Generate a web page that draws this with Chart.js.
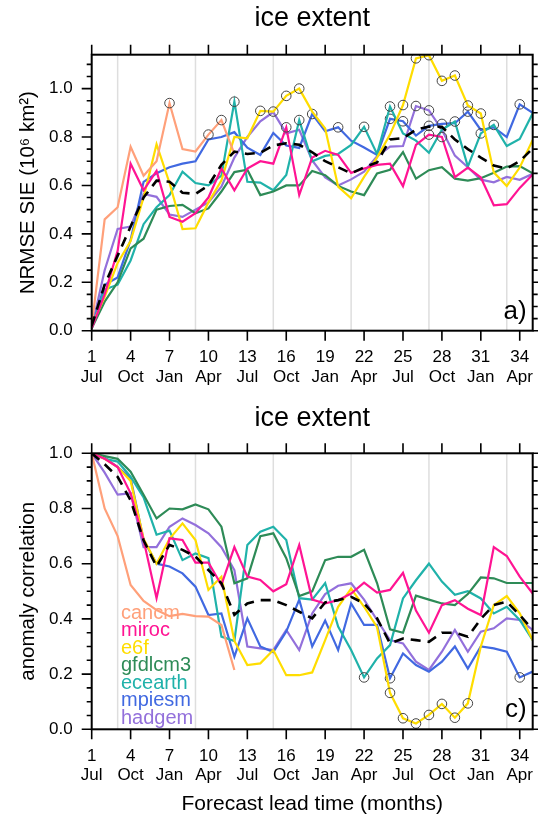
<!DOCTYPE html>
<html><head><meta charset="utf-8">
<script src="https://cdn.jsdelivr.net/npm/chart.js@4.4.1/dist/chart.umd.min.js"></script>
<style>
html,body{margin:0;padding:0;background:#fff;}
#wrap{position:relative;width:538px;height:817px;overflow:hidden;}
canvas{position:absolute;left:0;}
</style></head><body>
<div id="wrap">
<canvas id="c1" width="538" height="400" style="top:0"></canvas>
<canvas id="c2" width="538" height="417" style="top:400px"></canvas>
</div>
<script>
// ---------- data ----------
const leadMonths = [1,2,3,4,5,6,7,8,9,10,11,12,13,14,15,16,17,18,19,20,21,22,23,24,25,26,27,28,29,30,31,32,33,34,35];
const tickMonths = [1,4,7,10,13,16,19,22,25,28,31,34];
const tickMonthNames = ["Jul","Oct","Jan","Apr","Jul","Oct","Jan","Apr","Jul","Oct","Jan","Apr"];
const gridMonths = [3,9,15,21,27,33];
const seriesNames = ["cancm","miroc","e6f","gfdlcm3","ecearth","mpiesm","hadgem"];
const seriesColors = ["#ffa07a","#ff1493","#ffdd00","#2e8b57","#20b2aa","#4169e1","#9370db"];
const rmseTicks = [0.0,0.2,0.4,0.6,0.8,1.0];
const accTicks = [0.0,0.2,0.4,0.6,0.8,1.0];

// NRMSE SIE (10^6 km^2)
const rmseCancm   = [0.02,0.46,0.51,0.76,0.64,0.70,0.94,0.75,0.74,0.81,0.87,0.73];
const rmseMiroc   = [0.01,0.15,0.33,0.69,0.58,0.66,0.47,0.45,0.485,0.55,0.67,0.58,0.67,0.70,0.69,0.84,0.56,0.715,0.743,0.726,0.652,0.67,0.685,0.69,0.597,0.767,0.81,0.80,0.634,0.674,0.633,0.518,0.523,0.59,0.645];
const rmseE6f     = [0.02,0.14,0.28,0.37,0.55,0.77,0.61,0.42,0.423,0.53,0.62,0.80,0.795,0.908,0.905,0.97,1.0,0.905,0.835,0.595,0.547,0.635,0.715,0.81,0.932,1.125,1.138,1.032,1.054,0.93,0.897,0.654,0.598,0.674,0.788];
const rmseGfdlcm3 = [0.01,0.12,0.20,0.34,0.38,0.50,0.515,0.52,0.485,0.505,0.575,0.655,0.665,0.56,0.575,0.60,0.60,0.66,0.642,0.598,0.575,0.56,0.65,0.665,0.738,0.628,0.663,0.675,0.628,0.62,0.63,0.652,0.678,0.68,0.65];
const rmseEcearth = [0.01,0.17,0.19,0.29,0.44,0.51,0.56,0.657,0.61,0.60,0.64,0.946,0.615,0.612,0.58,0.643,0.87,0.70,0.722,0.73,0.767,0.842,0.73,0.926,0.815,0.785,0.735,0.83,0.864,0.678,0.815,0.85,0.763,0.792,0.898];
const rmseMpiesm  = [0.01,0.19,0.22,0.375,0.615,0.65,0.675,0.69,0.70,0.79,0.80,0.82,0.756,0.726,0.817,0.765,0.755,0.895,0.824,0.84,0.785,0.757,0.726,0.875,0.865,0.806,0.846,0.854,0.857,0.905,0.829,0.84,0.80,0.935,0.90];
const rmseHadgem  = [0.01,0.25,0.42,0.43,0.565,0.553,0.48,0.47,0.50,0.53,0.595,0.715,0.80,0.865,0.903,0.815,0.83,0.703,0.633,0.60,0.625,0.657,0.72,0.76,0.763,0.928,0.91,0.83,0.723,0.675,0.624,0.613,0.635,0.623,0.648];
const rmseMean    = [0.02,0.19,0.31,0.43,0.55,0.62,0.615,0.57,0.565,0.60,0.685,0.74,0.73,0.735,0.765,0.774,0.768,0.737,0.70,0.675,0.65,0.675,0.695,0.79,0.795,0.83,0.843,0.842,0.79,0.75,0.715,0.682,0.67,0.70,0.753];
// circled lead months (top panel)
const rmseCircles = {
  cancm:[7,10,11], miroc:[16,27,28], e6f:[14,15,16,17,25,26,27,28,29,30,31], gfdlcm3:[],
  ecearth:[12,17,22,24,29,31,32], mpiesm:[18,20,24,25,27,28,30,34], hadgem:[26,27]
};

// anomaly correlation
const accCancm   = [1.0,0.80,0.70,0.523,0.465,0.432,0.41,0.418,0.41,0.408,0.378,0.215];
const accMiroc   = [1.0,0.98,0.95,0.855,0.686,0.475,0.692,0.686,0.604,0.604,0.523,0.66,0.553,0.541,0.50,0.526,0.668,0.47,0.456,0.468,0.492,0.531,0.495,0.505,0.567,0.43,0.35,0.45,0.468,0.437,0.414,0.66,0.628,0.553,0.492];
const accE6f     = [1.0,0.98,0.95,0.90,0.69,0.60,0.69,0.746,0.686,0.505,0.553,0.32,0.233,0.239,0.287,0.196,0.196,0.206,0.323,0.444,0.51,0.444,0.37,0.132,0.04,0.021,0.052,0.092,0.042,0.094,0.30,0.45,0.483,0.42,0.323];
const accGfdlcm3 = [1.0,0.99,0.98,0.933,0.85,0.764,0.80,0.797,0.815,0.797,0.734,0.529,0.547,0.70,0.71,0.62,0.483,0.50,0.613,0.625,0.625,0.65,0.53,0.362,0.35,0.484,0.47,0.456,0.45,0.49,0.55,0.547,0.53,0.53,0.53];
const accEcearth = [1.0,0.98,0.97,0.915,0.84,0.705,0.72,0.613,0.637,0.62,0.336,0.32,0.668,0.716,0.734,0.686,0.475,0.47,0.53,0.372,0.287,0.188,0.257,0.305,0.474,0.54,0.60,0.535,0.487,0.50,0.474,0.42,0.444,0.396,0.323];
const accMpiesm  = [1.0,0.985,0.95,0.91,0.686,0.60,0.59,0.565,0.517,0.414,0.42,0.263,0.402,0.30,0.28,0.354,0.47,0.30,0.394,0.287,0.456,0.378,0.378,0.185,0.275,0.233,0.209,0.245,0.30,0.22,0.30,0.293,0.281,0.188,0.209];
const accHadgem  = [1.0,0.93,0.85,0.855,0.66,0.66,0.734,0.764,0.74,0.71,0.66,0.577,0.30,0.293,0.287,0.36,0.287,0.42,0.49,0.52,0.529,0.47,0.396,0.323,0.311,0.245,0.215,0.281,0.36,0.281,0.354,0.366,0.402,0.396,0.36];
const accMean    = [1.0,0.96,0.915,0.83,0.685,0.59,0.668,0.65,0.626,0.577,0.529,0.415,0.456,0.468,0.468,0.45,0.426,0.402,0.46,0.468,0.48,0.456,0.402,0.311,0.329,0.323,0.317,0.35,0.35,0.335,0.40,0.45,0.462,0.414,0.36];
const accCircles = {
  cancm:[], miroc:[], e6f:[24,25,26,27,28,29,30], gfdlcm3:[], ecearth:[22], mpiesm:[24,34], hadgem:[]
};

// ---------- chart building ----------
const FONT = '"Liberation Sans", Arial, Helvetica, sans-serif';
Chart.defaults.font.family = FONT;
Chart.defaults.color = '#000';

function toXY(vals){ return vals.map((v,i)=>({x:leadMonths[i], y:v})); }

function makeDatasets(seriesVals, meanVals, circles){
  const ds = [{
    label:'mean', data:toXY(meanVals), borderColor:'#000', borderWidth:2.6,
    borderDash:[10,7], pointRadius:0, fill:false, tension:0
  }];
  seriesNames.forEach((n,i)=>{
    const c = circles[n] || [];
    ds.push({
      label:n, data:toXY(seriesVals[i]), borderColor:seriesColors[i], borderWidth:2.2,
      fill:false, tension:0,
      pointRadius:(ctx)=> (ctx.raw && c.includes(ctx.raw.x)) ? 4.8 : 0,
      pointBorderColor:'#444', pointBorderWidth:1, pointBackgroundColor:'rgba(0,0,0,0)',
      pointHoverRadius:0
    });
  });
  return ds;
}

const framePlugin = {
  id:'frame',
  beforeDatasetsDraw(chart, args, o){
    const {ctx, chartArea:ca, scales:{x}} = chart;
    ctx.save();
    ctx.strokeStyle = '#dedede'; ctx.lineWidth = 1.5;
    gridMonths.forEach(m=>{
      const px = x.getPixelForValue(m);
      ctx.beginPath(); ctx.moveTo(px, ca.top); ctx.lineTo(px, ca.bottom); ctx.stroke();
    });
    if (o.legend){
      ctx.font = '20px ' + FONT; ctx.textAlign='left'; ctx.textBaseline='alphabetic';
      chart.data.datasets.slice(1).forEach((d,i)=>{
        ctx.fillStyle = d.borderColor;
        ctx.fillText(d.label, o.legendX, o.legendY + i*o.legendStep);
      });
    }
    ctx.restore();
  },
  afterDraw(chart, args, o){
    const {ctx, chartArea:ca, scales:{x,y}} = chart;
    ctx.save();
    ctx.strokeStyle='#000'; ctx.lineWidth=1.6;
    ctx.beginPath();
    tickMonths.forEach(m=>{
      const px = x.getPixelForValue(m);
      ctx.moveTo(px, ca.bottom); ctx.lineTo(px, ca.bottom+10);
      ctx.moveTo(px, ca.top); ctx.lineTo(px, ca.top-10);
    });
    for (let k=0; k*0.05 <= y.max+1e-9; k++){
      const v = k*0.05, py = y.getPixelForValue(v);
      const len = (k%4===0) ? 10 : 5;
      ctx.moveTo(ca.left, py); ctx.lineTo(ca.left-len, py);
      ctx.moveTo(ca.right, py); ctx.lineTo(ca.right+len, py);
    }
    ctx.stroke();
    ctx.lineWidth = 2;
    ctx.strokeRect(ca.left, ca.top, ca.right-ca.left, ca.bottom-ca.top);
    ctx.fillStyle='#000'; ctx.font = '26px ' + FONT; ctx.textAlign='right'; ctx.textBaseline='alphabetic';
    ctx.fillText(o.panel, ca.right-6, ca.bottom-12);
    ctx.restore();
  }
};

function makeChart(id, datasets, opt){
  return new Chart(document.getElementById(id), {
    type:'line',
    data:{datasets},
    plugins:[framePlugin],
    options:{
      responsive:false, animation:false, events:[],
      layout:{padding:{left:0, right:5.3, top:0, bottom:0}},
      plugins:{
        legend:{display:false}, tooltip:{enabled:false},
        title:{display:true, fullSize:false, text:'ice extent', font:{size:27, weight:'normal', lineHeight:1.2}, color:'#000',
               padding:{top:opt.titleTop, bottom:opt.titleBottom}},
        frame:{panel:opt.panel, legend:opt.legend, legendX:121, legendY:218.5, legendStep:17.5}
      },
      scales:{
        x:{type:'linear', min:1, max:35,
           grid:{display:false, drawTicks:false}, border:{display:false},
           afterBuildTicks:(s)=>{ s.ticks = tickMonths.map(v=>({value:v})); },
           afterFit:(s)=>{ s.height = opt.xHeight; s.paddingLeft=0; s.paddingRight=0; },
           ticks:{autoSkip:false, maxRotation:0, padding:17, font:{size:17, lineHeight:1.15},
                  callback:(v)=>{ const i = tickMonths.indexOf(v); return i>=0 ? [String(v), tickMonthNames[i]] : ''; }},
           title:{display:!!opt.xTitle, text:opt.xTitle||'', font:{size:21}, padding:{top:0,bottom:0}}
        },
        y:{type:'linear', min:0, max:opt.ymax,
           grid:{display:false, drawTicks:false}, border:{display:false},
           afterBuildTicks:(s)=>{ s.ticks = opt.yTicks.map(v=>({value:v})); },
           afterFit:(s)=>{ s.width = 91.7; s.paddingTop=0; s.paddingBottom=0; },
           ticks:{padding:19, font:{size:17}, callback:(v)=>v.toFixed(1)},
           title:{display:true, text:opt.yTitle, font:{size:20.5}, padding:{top:16.5,bottom:0}}
        }
      }
    }
  });
}

makeChart('c1',
  makeDatasets([rmseCancm,rmseMiroc,rmseE6f,rmseGfdlcm3,rmseEcearth,rmseMpiesm,rmseHadgem], rmseMean, rmseCircles),
  {panel:'a)', legend:false, ymax:1.14, yTicks:rmseTicks, yTitle:'NRMSE SIE (10\u2076 km\u00b2)',
   xHeight:69.3, titleTop:2, titleBottom:20.3});

makeChart('c2',
  makeDatasets([accCancm,accMiroc,accE6f,accGfdlcm3,accEcearth,accMpiesm,accHadgem], accMean, accCircles),
  {panel:'c)', legend:true, ymax:1.0, yTicks:accTicks, yTitle:'anomaly correlation',
   xHeight:87.7, xTitle:'Forecast lead time (months)', titleTop:2, titleBottom:18.9});
</script>
</body></html>
